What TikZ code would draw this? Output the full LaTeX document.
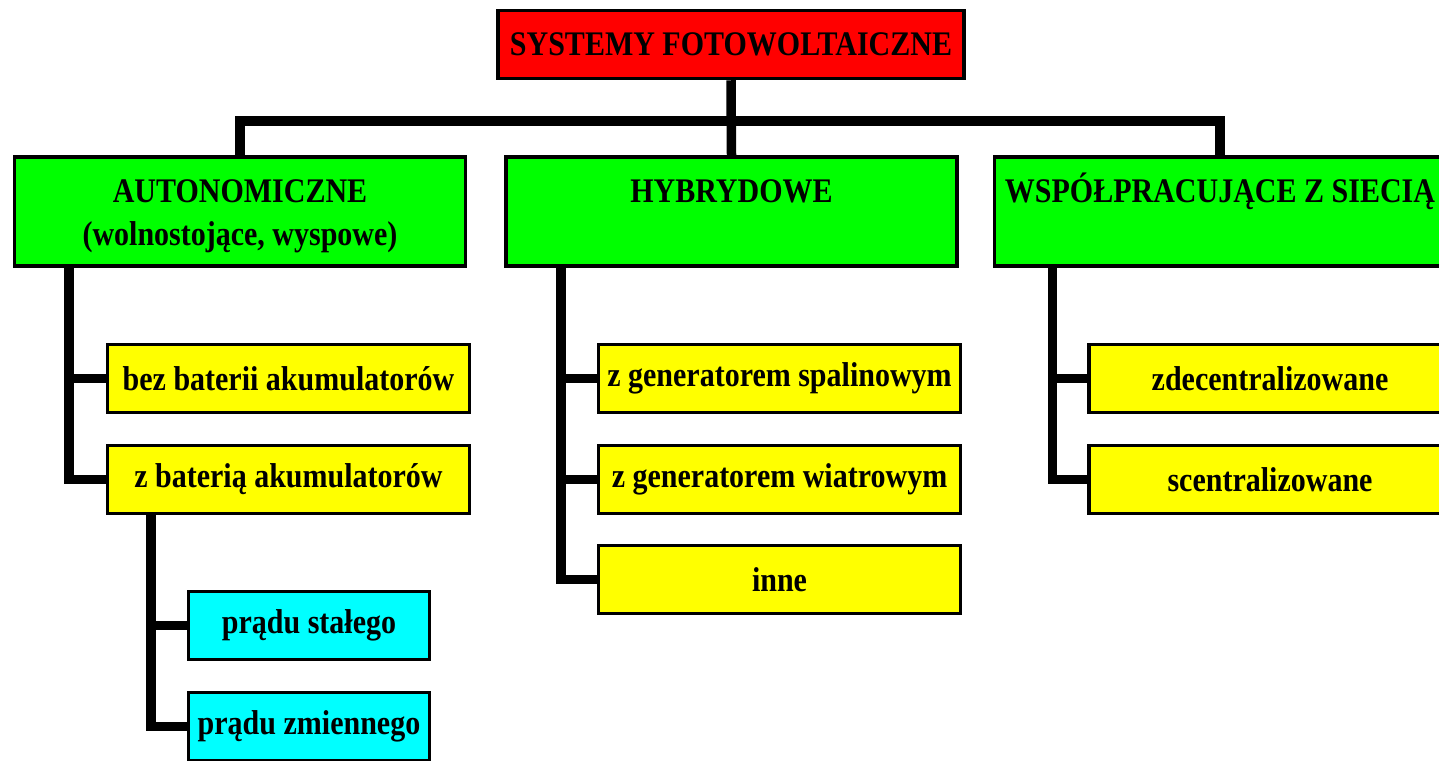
\documentclass[tikz,border=0pt]{standalone}
\usepackage{fontspec}
\setmainfont{Liberation Serif}
\usetikzlibrary{positioning, calc}
\definecolor{pvred}{RGB}{255, 0, 0}
\definecolor{pvgreen}{RGB}{0, 255, 0}
\definecolor{pvyellow}{RGB}{255, 255, 0}
\definecolor{pvcyan}{RGB}{0, 255, 255}
\newcommand{\tall}[1]{\scalebox{1}[1.15]{#1}}
\newcommand{\firstline}[1]{\rule{0pt}{32pt}\tall{#1}}
\tikzset{
  box/.style={draw=black, line width=3.5pt, inner sep=0pt, align=center,
    font=\bfseries\fontsize{30}{43}\selectfont},
  topbox/.style={box, fill=pvred, minimum width=466pt, minimum height=68pt},
  groupbox/.style={box, fill=pvgreen, minimum width=451pt, minimum height=109pt},
  subbox/.style={box, fill=pvyellow, minimum width=362pt, minimum height=68pt},
  leafbox/.style={box, fill=pvcyan, minimum width=241pt, minimum height=68pt},
  link/.style={draw=black, line width=9.5pt}
}

\begin{document}
\begin{tikzpicture}[x=1pt, y=-1pt]
  \clip (0,0) rectangle (1439,760);

  % Root
  \node[topbox] (root) at (731,44.5) {\tall{SYSTEMY FOTOWOLTAICZNE}};

  % Groups
  \node[groupbox] (auto) at (240,211.5) {\firstline{AUTONOMICZNE}\\\tall{(wolnostojące, wyspowe)}};
  \node[groupbox] (hyb) at (731.5,211.5) {\firstline{HYBRYDOWE}\\\phantom{\tall{(wolnostojące, wyspowe)}}};
  \node[groupbox] (grid) at (1220,211.5) {\firstline{WSPÓŁPRACUJĄCE Z SIECIĄ}\\\phantom{\tall{(wolnostojące, wyspowe)}}};

  % Autonomous branch
  \node[subbox] (nobat) at (288.5,378.5) {\tall{bez baterii akumulatorów}};
  \node[subbox] (bat) at (288.5,479.5) {\tall{z baterią akumulatorów}};
  \node[leafbox] (dc) at (309,625.5) {\tall{prądu stałego}};
  \node[leafbox] (ac) at (309,726.5) {\tall{prądu zmiennego}};

  % Hybrid branch
  \node[subbox] (diesel) at (779.5,378.5) {\tall{z generatorem spalinowym}};
  \node[subbox] (wind) at (779.5,479.5) {\tall{z generatorem wiatrowym}};
  \node[subbox] (other) at (779.5,579.5) {\tall{inne}};

  % Grid branch
  \node[subbox] (decent) at (1270,378.5) {\tall{zdecentralizowane}};
  \node[subbox] (cent) at (1270,479.5) {\tall{scentralizowane}};

  % Spine positions
  \coordinate (bus) at (731,121);
  \coordinate (spA) at (69,0);
  \coordinate (spB) at (151,0);
  \coordinate (spH) at (561,0);
  \coordinate (spG) at (1052.5,0);

  % Root to groups
  \draw[link] (root.south) -- (hyb.north);
  \draw[link] (auto.north) |- (bus) -| (grid.north);

  % Autonomous links
  \draw[link] (auto.south -| spA) |- (nobat.west);
  \draw[link] (auto.south -| spA) |- (bat.west);
  \draw[link] (bat.south -| spB) |- (dc.west);
  \draw[link] (bat.south -| spB) |- (ac.west);

  % Hybrid links
  \draw[link] (hyb.south -| spH) |- (diesel.west);
  \draw[link] (hyb.south -| spH) |- (wind.west);
  \draw[link] (hyb.south -| spH) |- (other.west);

  % Grid links
  \draw[link] (grid.south -| spG) |- (decent.west);
  \draw[link] (grid.south -| spG) |- (cent.west);
\end{tikzpicture}
\end{document}
